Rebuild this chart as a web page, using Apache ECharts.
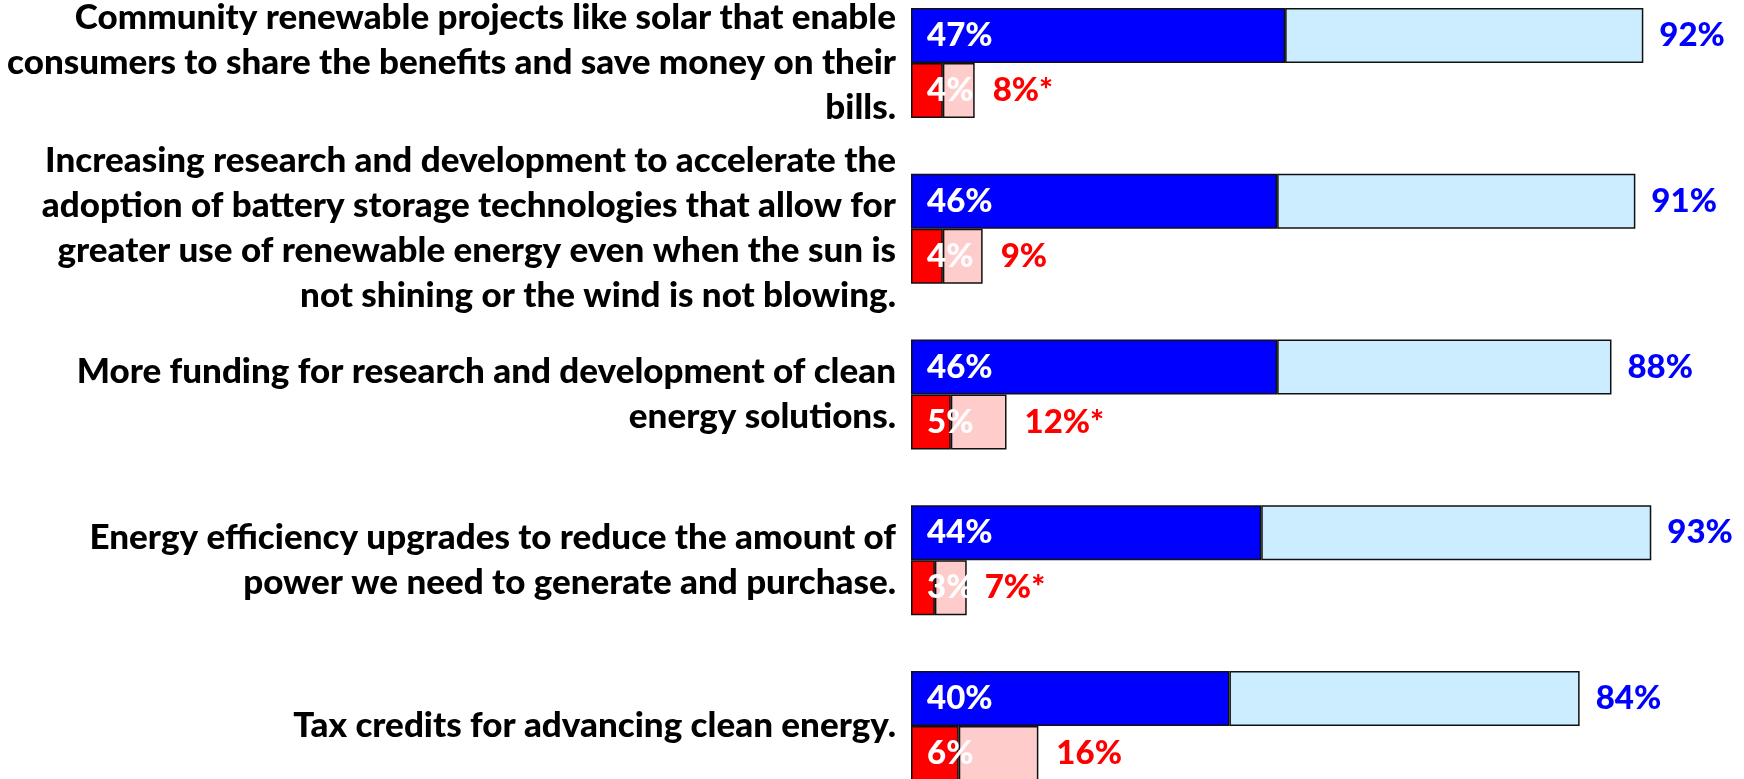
<!DOCTYPE html>
<html>
<head>
<meta charset="utf-8">
<title>Support for clean energy policies</title>
<script src="https://cdn.jsdelivr.net/npm/echarts@6/dist/echarts.min.js"></script>
<style>
  html, body { margin: 0; padding: 0; background: #ffffff; }
  #chart { width: 1744px; height: 779px; }
</style>
</head>
<body>
<div id="chart"></div>
<script>
// Policy statements (line breaks as they are set in the label column)
const categories = [
  'Community renewable projects like solar that enable\nconsumers to share the benefits and save money on their\nbills.',
  'Increasing research and development to accelerate the\nadoption of battery storage technologies that allow for\ngreater use of renewable energy even when the sun is\nnot shining or the wind is not blowing.',
  'More funding for research and development of clean\nenergy solutions.',
  'Energy efficiency upgrades to reduce the amount of\npower we need to generate and purchase.',
  'Tax credits for advancing clean energy.'
];

// Support (percent)
const strongSupport = [47, 46, 46, 44, 40];
const totalSupport = [92, 91, 88, 93, 84];

// Oppose (percent)
const strongOppose = [4, 4, 5, 3, 6];
const totalOppose = [8, 9, 12, 7, 16];
// Totals flagged with an asterisk
const opposeFlag = ['*', '', '*', '*', ''];

const someSupport = totalSupport.map((t, i) => t - strongSupport[i]);
const someOppose = totalOppose.map((t, i) => t - strongOppose[i]);

const FONT = 'Lato, "Open Sans", sans-serif';
const WEIGHT = 900;
const BAR_BORDER = { borderColor: '#111111', borderWidth: 1.5 };

const chart = echarts.init(document.getElementById('chart'), null, { renderer: 'canvas' });

chart.setOption({
  animation: false,
  backgroundColor: '#ffffff',
  grid: {
    left: 911,
    width: 796,
    top: -20,
    height: 829,
    containLabel: false,
    outerBoundsMode: 'none'
  },
  xAxis: {
    type: 'value',
    min: 0,
    max: 100,
    show: false
  },
  yAxis: {
    type: 'category',
    data: categories,
    inverse: true,
    axisLine: { show: false },
    axisTick: { show: false },
    splitLine: { show: false },
    axisLabel: {
      interval: 0,
      margin: 15,
      align: 'right',
      verticalAlign: 'middle',
      color: '#000000',
      fontFamily: FONT,
      fontWeight: WEIGHT,
      fontSize: 35,
      lineHeight: 45
    }
  },
  series: [
    {
      name: 'Strongly support',
      type: 'bar',
      stack: 'support',
      barWidth: 55,
      barGap: '0%',
      data: strongSupport,
      itemStyle: Object.assign({ color: '#0000FF' }, BAR_BORDER),
      label: {
        show: true,
        position: 'insideLeft',
        distance: 16,
        formatter: p => p.value + '%',
        color: '#ffffff',
        fontFamily: FONT,
        fontWeight: WEIGHT,
        fontSize: 33
      }
    },
    {
      name: 'Somewhat support',
      type: 'bar',
      stack: 'support',
      barWidth: 55,
      barGap: '0%',
      data: someSupport,
      itemStyle: Object.assign({ color: '#CCECFF' }, BAR_BORDER),
      label: {
        show: true,
        position: 'right',
        distance: 16,
        formatter: p => totalSupport[p.dataIndex] + '%',
        color: '#0000FF',
        fontFamily: FONT,
        fontWeight: WEIGHT,
        fontSize: 33
      }
    },
    {
      name: 'Strongly oppose',
      type: 'bar',
      stack: 'oppose',
      barWidth: 55,
      barGap: '0%',
      z: 3,
      data: strongOppose,
      itemStyle: Object.assign({ color: '#FF0000' }, BAR_BORDER),
      label: {
        show: true,
        position: 'insideLeft',
        distance: 16,
        formatter: p => p.value + '%',
        color: '#ffffff',
        fontFamily: FONT,
        fontWeight: WEIGHT,
        fontSize: 33
      }
    },
    {
      name: 'Somewhat oppose',
      type: 'bar',
      stack: 'oppose',
      barWidth: 55,
      barGap: '0%',
      data: someOppose,
      itemStyle: Object.assign({ color: '#FFCCCC' }, BAR_BORDER),
      label: {
        show: true,
        position: 'right',
        distance: 18,
        formatter: p => totalOppose[p.dataIndex] + '%' + opposeFlag[p.dataIndex],
        color: '#FF0000',
        fontFamily: FONT,
        fontWeight: WEIGHT,
        fontSize: 33
      }
    }
  ]
});
</script>
</body>
</html>
